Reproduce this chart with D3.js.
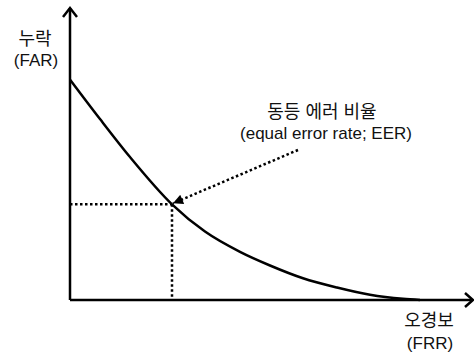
<!DOCTYPE html>
<html>
    <head>
        <meta charset="UTF-8"/>
        <style>
            body { margin: 0; background: #fff; }
            text { font-family: "Liberation Sans", "Noto Sans CJK KR", sans-serif; fill: #111; }
        </style>
    </head>
    <body>
        <script src="https://d3js.org/d3.v7.min.js" type="text/javascript"></script>
        <script>
        // curve samples (both axes 0..100)
        let frr = [0, 7.5, 15, 25.5, 33.75, 42.5, 50, 58.25, 66.75, 75, 83.25, 87.5];
        let far = [76, 62.4, 49.3, 33, 23.6, 16.6, 11.9, 7.5, 4.3, 1.8, 0.4, 0];
        let eer = [25.5, 33];
        let yLabel = ["누락", "(FAR)"];
        let xLabel = ["오경보", "(FRR)"];
        let note = ["동등 에러 비율", "(equal error rate; EER)"];

        let width = 474;
        let height = 354;

        let x = d3.scaleLinear().domain([0, 100]).range([70, 470]);
        let y = d3.scaleLinear().domain([0, 100]).range([300, 10]);

        let svg = d3.select("body")
            .append("svg")
            .attr("width", width)
            .attr("height", height);

        let defs = svg.append("defs");
        defs.append("marker")
            .attr("id", "tri")
            .attr("viewBox", "0 0 10 10")
            .attr("refX", 10)
            .attr("refY", 5)
            .attr("markerWidth", 12)
            .attr("markerHeight", 10)
            .attr("markerUnits", "userSpaceOnUse")
            .attr("orient", "auto")
            .append("path")
            .attr("d", "M0,0L10,5L0,10Z")
            .attr("fill", "#000");

        // axes
        let axes = svg.append("g")
            .attr("fill", "none")
            .attr("stroke", "#000")
            .attr("stroke-width", 2.5);
        axes.append("path")
            .attr("d", "M" + x(0) + "," + y(0) + "V8");
        axes.append("path")
            .attr("d", "M" + x(0) + "," + y(0) + "H472");
        axes.append("path")
            .attr("d", "M63,17L" + x(0) + ",8L77,17");
        axes.append("path")
            .attr("d", "M465,293L473," + y(0) + "L465,307");

        // guide lines to the EER point
        let dots = svg.append("g")
            .attr("fill", "none")
            .attr("stroke", "#000")
            .attr("stroke-width", 2.5)
            .attr("stroke-dasharray", "2.5,2.5");
        dots.append("path")
            .attr("d", "M" + x(0) + "," + y(eer[1]) + "H" + x(eer[0]));
        dots.append("path")
            .attr("d", "M" + x(eer[0]) + "," + y(eer[1]) + "V" + y(0));

        // the FAR/FRR curve
        let line = d3.line()
            .x(function(d, i) { return x(frr[i]); })
            .y(function(d) { return y(d); })
            .curve(d3.curveMonotoneX);
        svg.append("path")
            .attr("d", line(far))
            .attr("fill", "none")
            .attr("stroke", "#000")
            .attr("stroke-width", 2.5);

        // dotted pointer
        svg.append("line")
            .attr("x1", 298)
            .attr("y1", 150)
            .attr("x2", x(eer[0]) + 1)
            .attr("y2", y(eer[1]) - 1)
            .attr("stroke", "#000")
            .attr("stroke-width", 2.5)
            .attr("stroke-dasharray", "2.5,2.5")
            .attr("marker-end", "url(#tri)");

        // texts
        let ko = "18px", en = "17px";
        svg.append("text").attr("x", 35).attr("y", 45)
            .attr("text-anchor", "middle").attr("font-size", ko).text(yLabel[0]);
        svg.append("text").attr("x", 36).attr("y", 66)
            .attr("text-anchor", "middle").attr("font-size", en).text(yLabel[1]);
        svg.append("text").attr("x", 429).attr("y", 327)
            .attr("text-anchor", "middle").attr("font-size", ko).text(xLabel[0]);
        svg.append("text").attr("x", 430).attr("y", 349)
            .attr("text-anchor", "middle").attr("font-size", en).text(xLabel[1]);
        svg.append("text").attr("x", 322).attr("y", 118)
            .attr("text-anchor", "middle").attr("font-size", ko).text(note[0]);
        svg.append("text").attr("x", 326).attr("y", 139)
            .attr("text-anchor", "middle").attr("font-size", en).text(note[1]);
        </script>
    </body>
</html>
